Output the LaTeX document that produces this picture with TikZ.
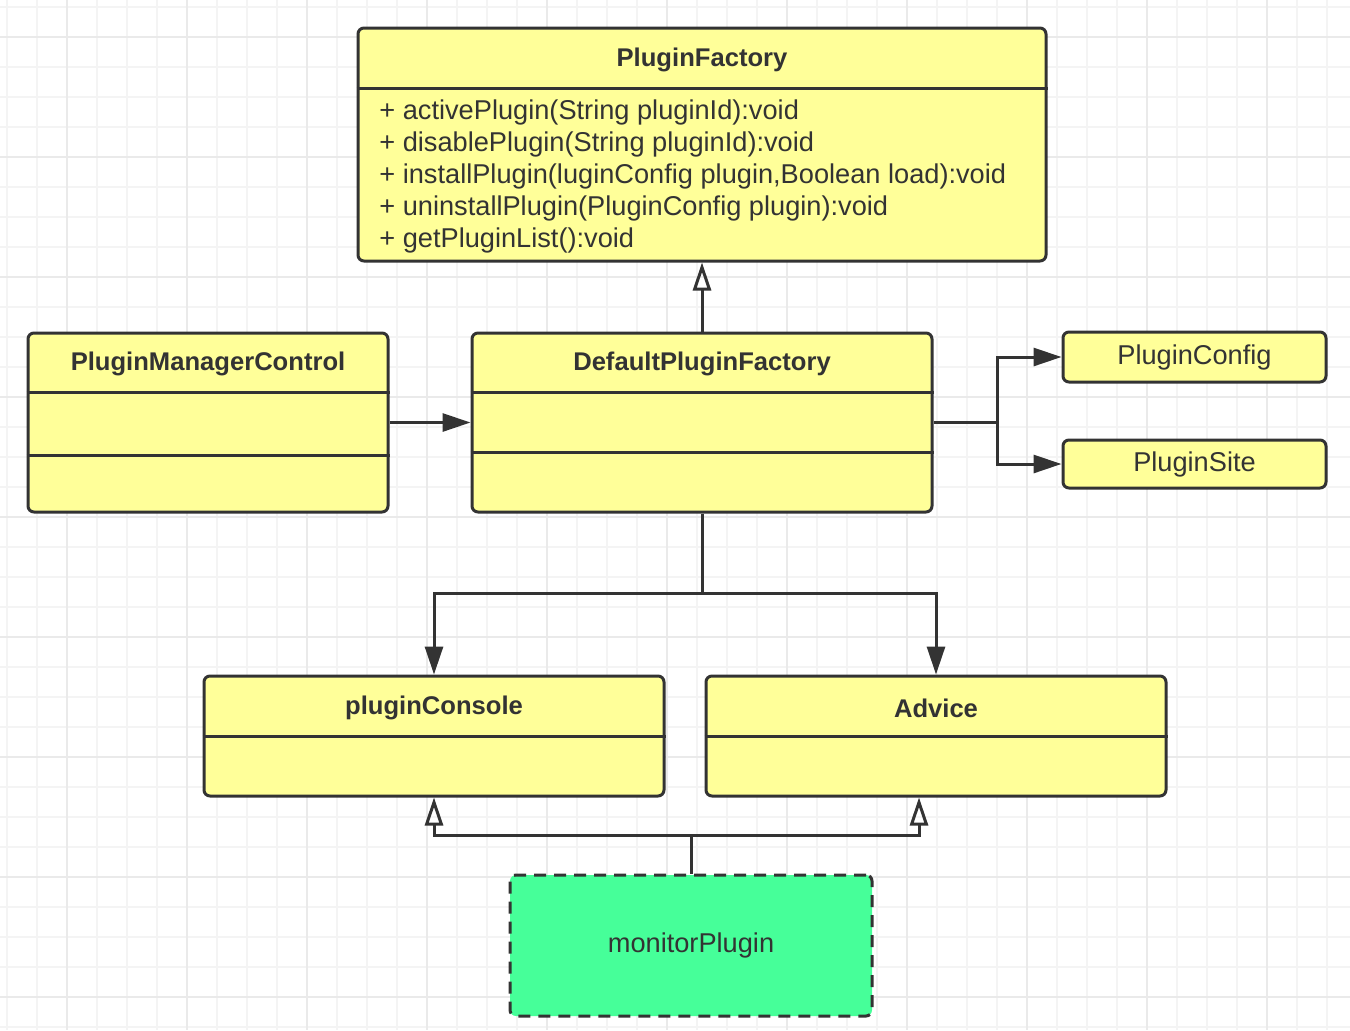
\documentclass[tikz,border=0pt]{standalone}
\usepackage{fontspec}
\setmainfont{Liberation Sans}
\definecolor{umlyellow}{RGB}{255, 255, 153}
\definecolor{umlline}{RGB}{51, 51, 51}
\definecolor{plugingreen}{RGB}{70, 255, 153}
\definecolor{gridminor}{RGB}{244, 244, 244}
\definecolor{gridmajor}{RGB}{234, 234, 234}
\usetikzlibrary{arrows.meta, positioning}
\tikzset{
  classbox/.style={draw=umlline, fill=umlyellow, line width=1.5pt, rounded corners=3pt, inner sep=0pt},
  classname/.style={font=\fontsize{12.8}{16}\selectfont\bfseries, text=umlline},
  plainname/.style={font=\fontsize{13.6}{16}\selectfont, text=umlline},
  pluginbox/.style={classbox, fill=plugingreen, dash pattern=on 6pt off 4pt},
  divider/.style={draw=umlline, line width=1.5pt},
  link/.style={draw=umlline, line width=1.5pt},
  assoc/.style={link, -{Triangle[length=14pt, width=9pt]}},
  realize/.style={link, -{Triangle[open, length=14pt, width=9pt]}},
}

\begin{document}
\begin{tikzpicture}[x=0.5pt, y=-0.5pt]
  \fill[white] (0,0) rectangle (1350,1030);
  \useasboundingbox (0,0) rectangle (1350,1030);
  \foreach \gx in {7,37,...,1350} \draw[gridminor, line width=0.6pt] (\gx,0) -- (\gx,1030);
  \foreach \gy in {7,37,...,1030} \draw[gridminor, line width=0.6pt] (0,\gy) -- (1350,\gy);
  \foreach \gx in {67,187,...,1350} \draw[gridmajor, line width=0.6pt] (\gx,0) -- (\gx,1030);
  \foreach \gy in {37,157,...,1030} \draw[gridmajor, line width=0.6pt] (0,\gy) -- (1350,\gy);

  \node[classbox, minimum width=344pt, minimum height=116.5pt] (pf) at (702,144.5) {};
  \node[classname] (pfname) at (702,60) {PluginFactory};
  \draw[divider] (pf.west |- 0,88) -- (pf.east |- 0,88);
  \node[plainname, anchor=west, align=left, inner sep=0pt] (pfops) at (379,176) {+ activePlugin(String pluginId):void\\+ disablePlugin(String pluginId):void\\+ installPlugin(luginConfig plugin,Boolean load):void\\+ uninstallPlugin(PluginConfig plugin):void\\+ getPluginList():void};

  \node[classbox, minimum width=180pt, minimum height=89.5pt] (pmc) at (208,422.5) {};
  \node[classname] (pmcname) at (208,364) {PluginManagerControl};
  \draw[divider] (pmc.west |- 0,392) -- (pmc.east |- 0,392);
  \draw[divider] (pmc.west |- 0,455) -- (pmc.east |- 0,455);

  \node[classbox, minimum width=230pt, minimum height=89.5pt] (dpf) at (702,422.5) {};
  \node[classname] (dpfname) at (702,364) {DefaultPluginFactory};
  \draw[divider] (dpf.west |- 0,392) -- (dpf.east |- 0,392);
  \draw[divider] (dpf.west |- 0,452) -- (dpf.east |- 0,452);

  \node[classbox, minimum width=131.5pt, minimum height=25pt, plainname] (cfg) at (1194.5,357) {PluginConfig};
  \node[classbox, minimum width=131.5pt, minimum height=24pt, plainname] (site) at (1194.5,464) {PluginSite};

  \node[classbox, minimum width=230pt, minimum height=60pt] (console) at (434,736) {};
  \node[classname] (consolename) at (434,708) {pluginConsole};
  \draw[divider] (console.west |- 0,736) -- (console.east |- 0,736);

  \node[classbox, minimum width=230pt, minimum height=60pt] (advice) at (936,736) {};
  \node[classname] (advicename) at (936,708) {Advice};
  \draw[divider] (advice.west |- 0,736) -- (advice.east |- 0,736);

  \node[pluginbox, minimum width=181pt, minimum height=70.5pt, plainname] (mon) at (691,945.5) {monitorPlugin};

  \coordinate (split) at (997,422.5);
  \coordinate (fork) at (702,593);
  \coordinate (join) at (691,835);

  \draw[realize] (dpf) -- (pf);
  \draw[assoc] (pmc) -- (dpf);
  \draw[link] (dpf.east) -- (split);
  \draw[assoc] (split) |- (cfg);
  \draw[assoc] (split) |- (site);
  \draw[link] (dpf) -- (fork);
  \draw[assoc] (fork) -| (console);
  \draw[assoc] (fork) -| (advice);
  \draw[link] (mon) -- (join);
  \draw[realize] (join) -| (console);
  \draw[realize] (join) -| ([xshift=-8.5pt]advice.south);
\end{tikzpicture}
\end{document}
